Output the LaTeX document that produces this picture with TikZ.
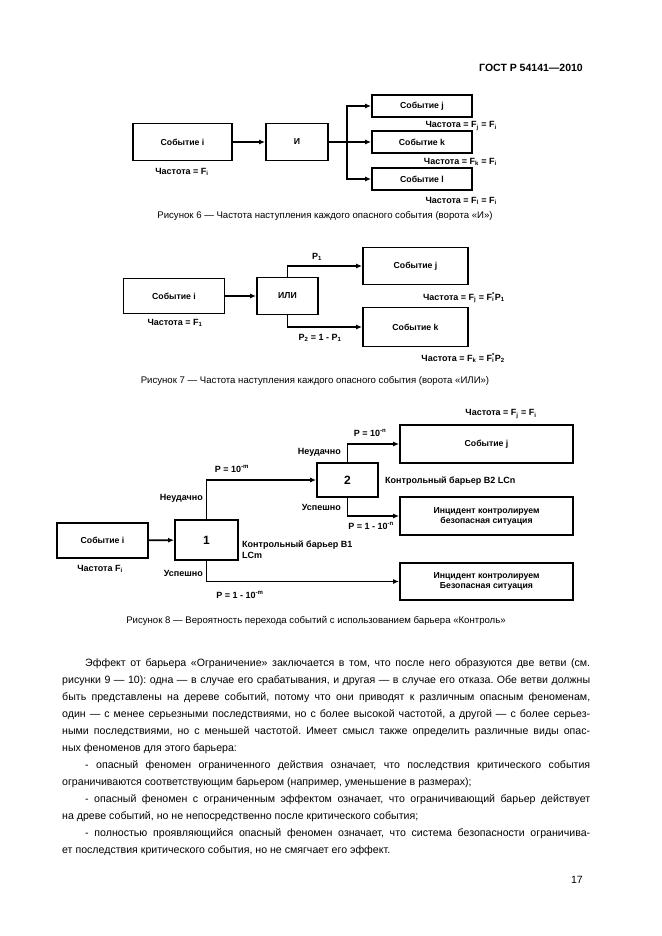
\documentclass[tikz,border=0pt]{standalone}
\usepackage{fontspec}
\setmainfont{Liberation Sans}
\usetikzlibrary{arrows.meta}
\frenchspacing

\newcommand{\subt}[1]{\textsubscript{#1}}
\newcommand{\supt}[1]{\textsuperscript{#1}}

\tikzset{
    box/.style={draw, line width=1.8pt, inner sep=1pt, align=center,
        font=\bfseries\fontsize{8.7}{10}\selectfont},
    wire/.style={line width=1.8pt},
    link/.style={wire, -{Latex[length=6pt, width=5pt]}},
    tag/.style={inner sep=0pt, font=\bfseries\fontsize{9}{10.5}\selectfont},
    caption/.style={inner sep=0pt, font=\fontsize{9.6}{11}\selectfont},
    textline/.style={inner sep=0pt, anchor=base west, font=\fontsize{10.6}{12}\selectfont},
}

\begin{document}
\begin{tikzpicture}[x=1pt, y=-1pt]%% page
    \fill[white] (0, 0) rectangle (661, 936);
    \useasboundingbox (0, 0) rectangle (661, 936);

    \node[inner sep=0pt, anchor=east, font=\bfseries\fontsize{10.5}{12}\selectfont] (gost) at (583, 68) {ГОСТ Р 54141—2010};

    %% figure 6
        \node[box, minimum width=99pt, minimum height=37pt] (ev6i) at (182.5, 142) {Событие i};
        \node[box, minimum width=62pt, minimum height=37pt] (and6) at (297, 142) {И};
        \node[box, minimum width=100pt, minimum height=22pt] (ev6j) at (422, 106) {Событие j};
        \node[box, minimum width=100pt, minimum height=22pt] (ev6k) at (422, 142) {Событие k};
        \node[box, minimum width=100pt, minimum height=22pt] (ev6l) at (422, 179) {Событие l};
        \coordinate (fork6) at (347, 142);

            \draw[link] (ev6i) to (and6);
            \draw[wire] (and6) to (fork6);
            \draw[link] (fork6) |- (ev6j);
            \draw[link] (fork6) to (ev6k);
            \draw[link] (fork6) |- (ev6l);

        \node[tag] (fr6i) at (182, 172) {Частота = F\subt{i}};
        \node[tag, anchor=east] (fr6j) at (497, 126) {Частота = F\subt{j} = F\subt{i}};
        \node[tag, anchor=east] (fr6k) at (497, 162) {Частота = F\subt{k} = F\subt{i}};
        \node[tag, anchor=east] (fr6l) at (497, 201) {Частота = F\subt{l} = F\subt{i}};
        \node[caption] (cap6) at (325, 216) {Рисунок 6 — Частота наступления каждого опасного события (ворота «И»)};

    %% figure 7
        \node[box, minimum width=101pt, minimum height=35pt] (ev7i) at (174, 296) {Событие i};
        \node[box, minimum width=61pt, minimum height=37pt] (or7) at (287.5, 296) {ИЛИ};
        \node[box, minimum width=105pt, minimum height=37pt] (ev7j) at (415.5, 266) {Событие j};
        \node[box, minimum width=105pt, minimum height=39pt] (ev7k) at (415.5, 327) {Событие k};

            \draw[link] (ev7i) to (or7);
            \draw[link] (or7.north) |- (ev7j);
            \draw[link] (or7.south) |- (ev7k);

        \node[tag] (p7up) at (317, 257) {P\subt{1}};
        \node[tag] (p7dn) at (320, 338) {P\subt{2} = 1 - P\subt{1}};
        \node[tag] (fr7i) at (175, 323) {Частота = F\subt{1}};
        \node[tag, anchor=east] (fr7j) at (505, 298) {Частота = F\subt{j} = F\rlap{\subt{i}}\supt{*}P\subt{1}};
        \node[tag, anchor=east] (fr7k) at (505, 358) {Частота = F\subt{k} = F\rlap{\subt{i}}\supt{*}P\subt{2}};
        \node[caption] (cap7) at (315, 381) {Рисунок 7 — Частота наступления каждого опасного события (ворота «ИЛИ»)};

    %% figure 8
        \node[box, minimum width=91pt, minimum height=35pt] (ev8i) at (102.5, 540.5) {Событие i};
        \node[box, minimum width=63pt, minimum height=40pt, font=\bfseries\fontsize{12}{14}\selectfont] (bar1) at (206.5, 540) {1};
        \node[box, minimum width=61pt, minimum height=34pt, font=\bfseries\fontsize{12}{14}\selectfont] (bar2) at (347.5, 480) {2};
        \node[box, minimum width=173pt, minimum height=38pt] (ev8j) at (486.5, 444) {Событие j};
        \node[box, minimum width=173pt, minimum height=38pt] (inc2) at (486.5, 516) {Инцидент контролируем\\безопасная ситуация};
        \node[box, minimum width=173pt, minimum height=37pt] (inc1) at (486.5, 581.5) {Инцидент контролируем\\Безопасная ситуация};

            \draw[link] (ev8i) to (bar1);
            \draw[link] (bar1.north) |- (bar2);
            \draw[link] (bar1.south) |- (inc1);
            \draw[link] (bar2.north) |- (ev8j);
            \draw[link] (bar2.south) |- (inc2);

        \node[tag] (fr8j) at (501, 414) {Частота = F\subt{j} = F\subt{i}};
        \node[tag] (fr8i) at (100, 569) {Частота F\subt{i}};
        \node[tag] (p8up1) at (232, 469) {P = 10\supt{-m}};
        \node[tag, anchor=east] (no1) at (203, 498) {Неудачно};
        \node[tag, anchor=east] (ok1) at (203, 573) {Успешно};
        \node[tag] (p8dn1) at (240, 595) {P = 1 - 10\supt{-m}};
        \node[tag, anchor=north west, align=left] (lab1) at (242, 541) {Контрольный барьер B1\\LCm};
        \node[tag] (p8up2) at (370, 433) {P = 10\supt{-n}};
        \node[tag, anchor=east] (no2) at (341, 452) {Неудачно};
        \node[tag, anchor=east] (ok2) at (341, 507) {Успешно};
        \node[tag] (p8dn2) at (371, 526) {P = 1 - 10\supt{-n}};
        \node[tag, anchor=west] (lab2) at (385, 481) {Контрольный барьер B2 LCn};
        \node[caption] (cap8) at (316, 621) {Рисунок 8 — Вероятность перехода событий с использованием барьера «Контроль»};

    %% text
        \node[textline] (line1) at (85, 666) {\makebox[505pt][s]{Эффект от барьера «Ограничение» заключается в том, что после него образуются две ветви (см.}};
        \node[textline] (line2) at (62, 683) {\makebox[528pt][s]{рисунки 9 — 10): одна — в случае его срабатывания, и другая — в случае его отказа. Обе ветви должны}};
        \node[textline] (line3) at (62, 700) {\makebox[528pt][s]{быть представлены на дереве событий, потому что они приводят к различным опасным феноменам,}};
        \node[textline] (line4) at (62, 717) {\makebox[528pt][s]{один — с менее серьезными последствиями, но с более высокой частотой, а другой — с более серьез-}};
        \node[textline] (line5) at (62, 734) {\makebox[528pt][s]{ными последствиями, но с меньшей частотой. Имеет смысл также определить различные виды опас-}};
        \node[textline] (line6) at (62, 751) {ных феноменов для этого барьера:};
        \node[textline] (line7) at (85, 768) {\makebox[505pt][s]{- опасный феномен ограниченного действия означает, что последствия критического события}};
        \node[textline] (line8) at (62, 785) {ограничиваются соответствующим барьером (например, уменьшение в размерах);};
        \node[textline] (line9) at (85, 802) {\makebox[505pt][s]{- опасный феномен с ограниченным эффектом означает, что ограничивающий барьер действует}};
        \node[textline] (line10) at (62, 819) {на древе событий, но не непосредственно после критического события;};
        \node[textline] (line11) at (85, 836) {\makebox[505pt][s]{- полностью проявляющийся опасный феномен означает, что система безопасности ограничива-}};
        \node[textline] (line12) at (62, 853) {ет последствия критического события, но не смягчает его эффект.};

    \node[inner sep=0pt, anchor=east, font=\fontsize{10.5}{12}\selectfont] (page) at (583, 880) {17};
\end{tikzpicture}
\end{document}
